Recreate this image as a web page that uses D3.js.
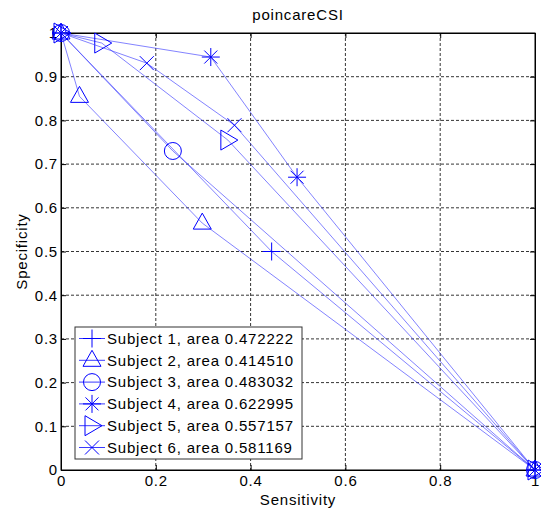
<!DOCTYPE html>
<html>
<head>
<meta charset="utf-8">
<script src="https://cdn.jsdelivr.net/npm/d3@7"></script>
<style>
  body { margin: 0; background: #fff; }
  text { font-family: "Liberation Sans", Arial, sans-serif; font-size: 15px; letter-spacing: 0.8px; fill: #000; }
</style>
</head>
<body>
<svg id="chart" width="541" height="514"></svg>
<script>
const subjects = ["Subject 1", "Subject 2", "Subject 3", "Subject 4", "Subject 5", "Subject 6"];
const areas = ["0.472222", "0.414510", "0.483032", "0.622995", "0.557157", "0.581169"];
const markers = ["plus", "triangle", "circle", "star", "right", "cross"];

// sensitivity / specificity per subject
const sens = [
    [0, 0.4444, 1],
    [0, 0.039, 0.298, 1],
    [0, 0.236, 1],
    [0, 0.316, 0.498, 1],
    [0, 0.086, 0.352, 1],
    [0, 0.181, 0.366, 1]
];
const spec = [
    [1, 0.5, 0],
    [1, 0.855, 0.565, 0],
    [1, 0.730, 0],
    [1, 0.945, 0.670, 0],
    [1, 0.977, 0.755, 0],
    [1, 0.931, 0.789, 0]
];

const xTicks = [0, 0.2, 0.4, 0.6, 0.8, 1];
const yTicks = [0, 0.1, 0.2, 0.3, 0.4, 0.5, 0.6, 0.7, 0.8, 0.9, 1];

const svg = d3.select("#chart"),
    mLeft = 61, mRight = 535, mTop = 33, mBottom = 470;

const x = d3.scaleLinear().domain([0, 1]).range([mLeft, mRight]);
const y = d3.scaleLinear().domain([0, 1]).range([mBottom, mTop]);

const shapes = {
    plus: "M-9,0H9M0,-9V9",
    triangle: "M0,-10L9,6L-9,6Z",
    circle: "M8.5,0A8.5,8.5 0 1,1 -8.5,0A8.5,8.5 0 1,1 8.5,0Z",
    star: "M-9,0H9M0,-9V9M-6.5,-6.5L6.5,6.5M-6.5,6.5L6.5,-6.5",
    right: "M10,0L-7,-10L-7,10Z",
    cross: "M-7,-7L7,7M-7,7L7,-7"
};

// grid
const grid = svg.append("g")
    .attr("stroke", "#000")
    .attr("stroke-width", 0.8)
    .attr("stroke-dasharray", "3,2");
grid.selectAll(".gx").data(xTicks.slice(1, -1)).enter().append("line")
    .attr("x1", d => x(d)).attr("x2", d => x(d))
    .attr("y1", mTop).attr("y2", mBottom);
grid.selectAll(".gy").data(yTicks.slice(1, -1)).enter().append("line")
    .attr("y1", d => y(d)).attr("y2", d => y(d))
    .attr("x1", mLeft).attr("x2", mRight);

// axes (ticks inward, box on)
const fmt = d3.format("~g");
svg.append("g")
    .attr("transform", "translate(0," + mBottom + ")")
    .call(d3.axisBottom(x).tickValues(xTicks).tickFormat(fmt).tickSize(-5).tickPadding(5).tickSizeOuter(0));
svg.append("g")
    .attr("transform", "translate(0," + mTop + ")")
    .call(d3.axisTop(x).tickValues(xTicks).tickFormat("").tickSize(-5).tickSizeOuter(0));
svg.append("g")
    .attr("transform", "translate(" + mLeft + ",0)")
    .call(d3.axisLeft(y).tickValues(yTicks).tickFormat(fmt).tickSize(-5).tickPadding(3).tickSizeOuter(0));
svg.append("g")
    .attr("transform", "translate(" + mRight + ",0)")
    .call(d3.axisRight(y).tickValues(yTicks).tickFormat("").tickSize(-5).tickSizeOuter(0));

svg.selectAll(".tick text").style("font-size", "15px").attr("fill", "#000");
svg.selectAll(".domain").attr("stroke", "#000");
svg.selectAll(".tick line").attr("stroke", "#000");

svg.append("rect")
    .attr("x", mLeft).attr("y", mTop)
    .attr("width", mRight - mLeft).attr("height", mBottom - mTop)
    .attr("fill", "none").attr("stroke", "#000").attr("stroke-width", 1);

// titles
svg.append("text").attr("x", (mLeft + mRight) / 2).attr("y", 20)
    .attr("text-anchor", "middle").text("poincareCSI");
svg.append("text").attr("x", (mLeft + mRight) / 2).attr("y", 505)
    .attr("text-anchor", "middle").text("Sensitivity");
svg.append("text")
    .attr("transform", "translate(27," + (mTop + mBottom) / 2 + ") rotate(-90)")
    .attr("text-anchor", "middle").text("Specificity");

// series
const line = d3.line().x(d => x(d[0])).y(d => y(d[1]));
const series = subjects.map((s, i) => ({
    name: s,
    area: areas[i],
    marker: markers[i],
    pts: sens[i].map((v, j) => [v, spec[i][j]])
}));

const sg = svg.append("g").selectAll(".series").data(series).enter().append("g");
sg.append("path")
    .attr("d", d => line(d.pts))
    .attr("fill", "none")
    .attr("stroke", "#3a3aff")
    .attr("stroke-opacity", 0.7)
    .attr("stroke-width", 0.9);
sg.selectAll(".mk").data(d => d.pts.map(p => ({ p: p, m: d.marker }))).enter().append("path")
    .attr("transform", d => "translate(" + x(d.p[0]) + "," + y(d.p[1]) + ")")
    .attr("d", d => shapes[d.m])
    .attr("fill", "none")
    .attr("stroke", "#0000ff")
    .attr("stroke-width", 1);

// legend
const lg = svg.append("g");
lg.append("rect")
    .attr("x", 75).attr("y", 327).attr("width", 227).attr("height", 132)
    .attr("fill", "#fff").attr("stroke", "#333").attr("stroke-width", 1);
const row = lg.selectAll(".row").data(series).enter().append("g")
    .attr("transform", (d, i) => "translate(0," + (338.5 + i * 21.8) + ")");
row.append("line")
    .attr("x1", 79).attr("x2", 105)
    .attr("stroke", "#3a3aff").attr("stroke-width", 1);
row.append("path")
    .attr("transform", "translate(92,0)")
    .attr("d", d => shapes[d.marker])
    .attr("fill", "none").attr("stroke", "#0000ff").attr("stroke-width", 1);
row.append("text")
    .attr("x", 107).attr("dy", "0.35em")
    .text(d => d.name + ", area " + d.area);
</script>
</body>
</html>
